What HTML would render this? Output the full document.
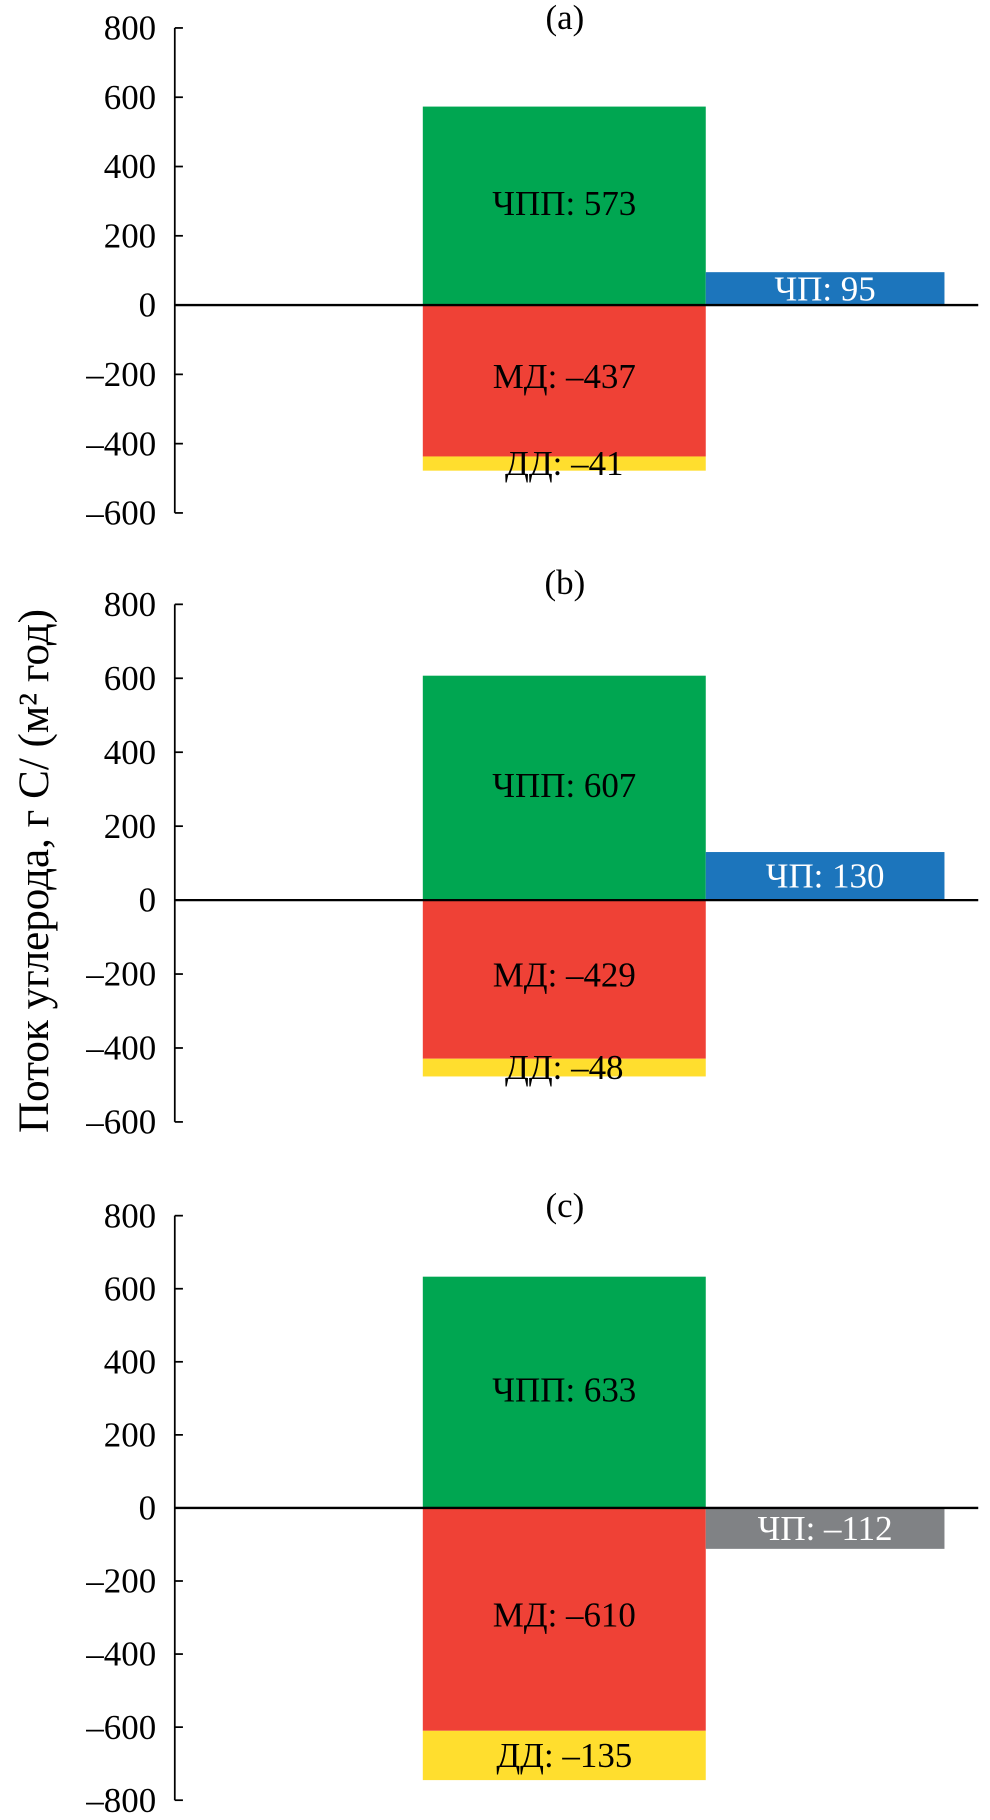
<!DOCTYPE html>
<html><head><meta charset="utf-8"><style>
html,body{margin:0;padding:0;background:#fff;}
svg{display:block;font-family:"Liberation Serif","DejaVu Serif",serif;}
</style></head><body>
<svg id="chart" width="990" height="1820" viewBox="0 0 850 1563" xmlns="http://www.w3.org/2000/svg">
<text transform="translate(41,748) rotate(-90)" text-anchor="middle" font-size="37">Поток углерода, г С/ (м² год)</text>
</svg>
<script>
const panelNames = ["(a)", "(b)", "(c)"];
const npp = [573, 607, 633];
const md = [-437, -429, -610];
const dd = [-41, -48, -135];
const np = [95, 130, -112];
const tickSets = [[800,600,400,200,0,-200,-400,-600],[800,600,400,200,0,-200,-400,-600],[800,600,400,200,0,-200,-400,-600,-800]];
const layout = [{top:24,zero:262,per200:59.5,title:15},{top:519,zero:773,per200:63.5,title:500},{top:1044,zero:1295,per200:62.75,title:1035}];
const svg = document.getElementById('chart');
const NS = "http://www.w3.org/2000/svg";
function mk(tag, attrs, parent){const e=document.createElementNS(NS,tag);for(const k in attrs)e.setAttribute(k,attrs[k]);(parent||svg).appendChild(e);return e;}
const axisX=150, barL=363, barM=606, barR=811, lineEnd=840;
layout.forEach((L,i)=>{
  const g=mk('g',{});
  
  
  const y=v=>L.zero - v/200*L.per200;
  const ticks=tickSets[i];
  const t=mk('text',{x:485,y:L.title+10,'text-anchor':'middle','font-size':30},g);
  t.textContent=panelNames[i];
  
  
  const ax=mk('line',{x1:axisX,x2:axisX,y1:y(ticks[0]),y2:y(ticks[ticks.length-1]),stroke:'#000','stroke-width':1.5},g);
  
  
  ticks.forEach(v=>{
    const tk=mk('line',{x1:axisX,x2:axisX+7,y1:y(v),y2:y(v),stroke:'#000','stroke-width':1.5},g);
    
    
    const tl=mk('text',{x:134,y:y(v)+10,'text-anchor':'end','font-size':30},g);
    tl.textContent=(v<0?'\u2013'+(-v):String(v));
    
    
  });
  function bar(x1,x2,v0,v1,color,name){
    const r=mk('rect',{x:x1,width:x2-x1,y:Math.min(y(v0),y(v1)),height:Math.abs(y(v0)-y(v1)),fill:color},g);
    
    
    return r;
  }
  function lab(x,yy,txt,color,name){
    const e=mk('text',{x:x,y:yy,'text-anchor':'middle','font-size':30,fill:color},g);
    e.textContent=txt;
    
    
  }
  bar(barL,barM,0,npp[i],'#00a651','bar-npp');
  bar(barL,barM,0,md[i],'#ef4136','bar-md');
  bar(barL,barM,md[i],md[i]+dd[i],'#ffde2e','bar-dd');
  bar(barM,barR,0,np[i],np[i]>=0?'#1c75bc':'#808285','bar-np');
  const fmt=v=>v<0?'\u2013'+(-v):String(v);
  const cx=(barL+barM)/2;
  lab(cx,y(npp[i]/2)+8,'ЧПП: '+fmt(npp[i]),'#000','label-npp');
  lab(cx,y(md[i]/2)+6,'МД: '+fmt(md[i]),'#000','label-md');
  lab(cx,y(md[i]+dd[i]/2)+10,'ДД: '+fmt(dd[i]),'#000','label-dd');
  lab((barM+barR)/2,y(np[i]/2)+10,'ЧП: '+fmt(np[i]),'#fff','label-np');
  const zl=mk('line',{x1:axisX,x2:lineEnd,y1:L.zero,y2:L.zero,stroke:'#000','stroke-width':2},g);
  
  
});
</script>
</body></html>
